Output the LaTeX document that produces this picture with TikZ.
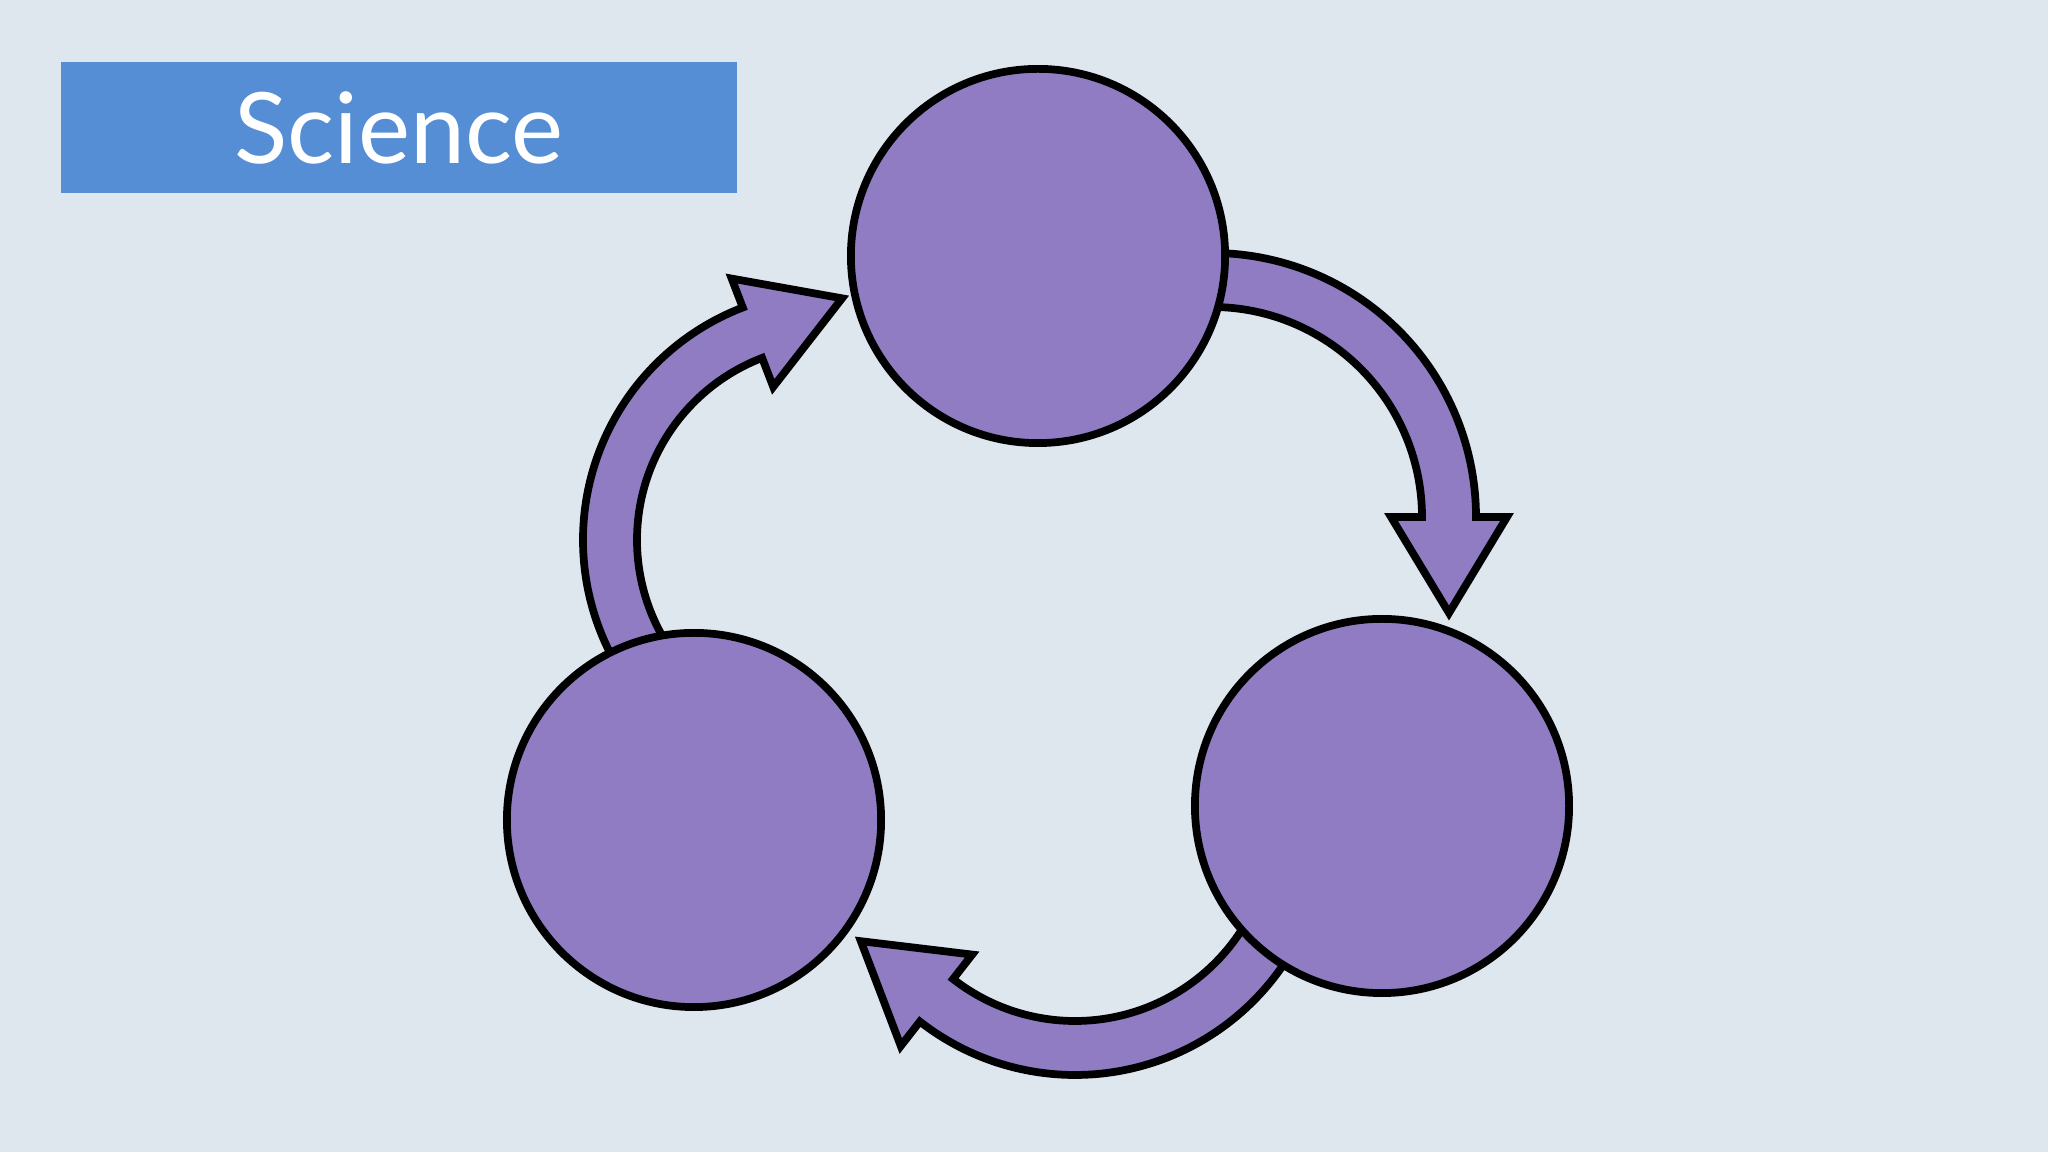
\documentclass[tikz,border=0pt]{standalone}
\usepackage{fontspec}
\newfontfamily\titlefont{Lato}
\usetikzlibrary{calc}
\definecolor{bgcol}{RGB}{222,230,238}
\definecolor{boxblue}{RGB}{85,142,213}
\definecolor{cyclepurple}{RGB}{143,124,195}

% #1 centre, #2 radius, #3 start angle, #4 end angle (clockwise)
\newcommand{\cyclearrow}[4]{%
\draw[arrowshape] ($(#1)+(#3:#2+27)$) arc[start angle=#3, end angle=#4, radius=#2+27]
  -- ($(#1)+(#4:#2+58)$)
  -- ($(#1)+(#4:#2)+(#4-90:96)$)
  -- ($(#1)+(#4:#2-58)$)
  -- ($(#1)+(#4:#2-27)$)
  arc[start angle=#4, end angle=#3, radius=#2-27] -- cycle;
}

\begin{document}
\begin{tikzpicture}[x=0.01cm, y=0.01cm,
  blob/.style={circle, draw=black, line width=2.2pt, fill=cyclepurple, minimum size=3.74cm, inner sep=0pt},
  arrowshape/.style={draw=black, line width=2.2pt, fill=cyclepurple, line join=miter}]
\fill[bgcol] (0,0) rectangle (2048,1152);
\fill[boxblue] (61,959) rectangle (737,1090);
\node[anchor=base, text=white, inner sep=0pt, font=\titlefont\fontsize{28pt}{34pt}\selectfont] (title) at (399,988) {Science};

\coordinate (cr) at (1212,635);
\coordinate (cb) at (1075,329);
\coordinate (cl) at (832,612);
\cyclearrow{cr}{237}{105}{0}
\cyclearrow{cb}{225}{-25}{-128}
\cyclearrow{cl}{222}{215}{111}

\node[blob] (topball) at (1038,896) {};
\node[blob] (rightball) at (1382,346) {};
\node[blob] (leftball) at (694,332) {};
\end{tikzpicture}
\end{document}
